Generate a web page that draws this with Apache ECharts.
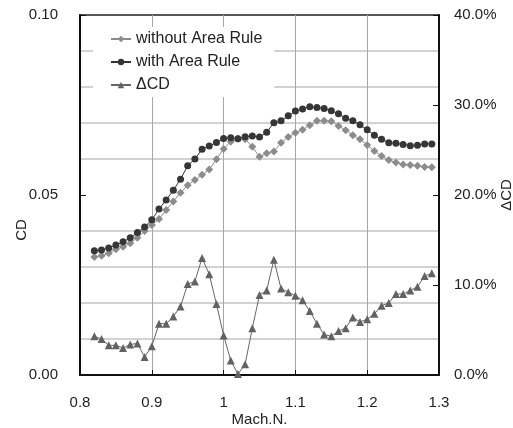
<!DOCTYPE html>
<html>
<head>
<meta charset="utf-8">
<script src="https://cdn.jsdelivr.net/npm/echarts@6/dist/echarts.min.js"></script>
<style>
  html, body { margin: 0; padding: 0; background: #fff; }
  #chart { width: 513px; height: 428px; }
</style>
</head>
<body>
<div id="chart"></div>
<script>
// Mach number 0.82 .. 1.29
const mach = [0.82, 0.83, 0.84, 0.85, 0.86, 0.87, 0.88, 0.89, 0.90, 0.91, 0.92, 0.93,
  0.94, 0.95, 0.96, 0.97, 0.98, 0.99, 1.00, 1.01, 1.02, 1.03, 1.04, 1.05,
  1.06, 1.07, 1.08, 1.09, 1.10, 1.11, 1.12, 1.13, 1.14, 1.15, 1.16, 1.17,
  1.18, 1.19, 1.20, 1.21, 1.22, 1.23, 1.24, 1.25, 1.26, 1.27, 1.28, 1.29]

const cdWithout = [0.0328, 0.0331, 0.0338, 0.0349, 0.0356, 0.0366, 0.0381, 0.0400, 0.0417, 0.0433, 0.0458, 0.0482,
  0.0506, 0.0527, 0.0542, 0.0556, 0.0571, 0.0599, 0.0628, 0.0648, 0.0657, 0.0655, 0.0634, 0.0606,
  0.0616, 0.0621, 0.0645, 0.0661, 0.0673, 0.0681, 0.0694, 0.0706, 0.0706, 0.0705, 0.0692, 0.0680,
  0.0666, 0.0655, 0.0639, 0.0622, 0.0608, 0.0597, 0.0590, 0.0585, 0.0583, 0.0581, 0.0578, 0.0577]

const cdWith = [0.0345, 0.0347, 0.0353, 0.0361, 0.0370, 0.0381, 0.0396, 0.0411, 0.0431, 0.0461, 0.0486, 0.0513,
  0.0544, 0.0581, 0.0600, 0.0627, 0.0636, 0.0646, 0.0657, 0.0659, 0.0656, 0.0662, 0.0664, 0.0661,
  0.0674, 0.0701, 0.0706, 0.0720, 0.0733, 0.0739, 0.0745, 0.0743, 0.0740, 0.0734, 0.0726, 0.0713,
  0.0706, 0.0695, 0.0681, 0.0666, 0.0655, 0.0645, 0.0644, 0.0640, 0.0637, 0.0638, 0.0642, 0.0642]

// ΔCD in percent
const deltaCd = [4.3, 4.0, 3.3, 3.3, 3.0, 3.4, 3.5, 2.0, 3.2, 5.7, 5.7, 6.5,
  7.6, 10.1, 10.4, 13.0, 11.2, 7.9, 4.4, 1.6, 0.1, 1.2, 5.2, 8.9,
  9.4, 12.8, 9.6, 9.2, 8.8, 8.3, 7.1, 5.7, 4.5, 4.3, 4.9, 5.2,
  6.4, 5.9, 6.2, 6.8, 7.7, 8.0, 9.0, 9.0, 9.4, 9.8, 11.0, 11.3]

const pair = (ys) => mach.map((m, i) => [m, ys[i]])

const font = 'Liberation Sans, Arial, sans-serif'
const chart = echarts.init(document.getElementById('chart'), null, { renderer: 'canvas' })

const option = {
  animation: false,
  backgroundColor: '#fff',
  textStyle: { fontFamily: font },
  grid: {
    left: 80, top: 15, width: 359, height: 360,
    outerBoundsMode: 'none',
    show: true, borderColor: '#222', borderWidth: 1.5
  },
  legend: {
    left: 93, top: 27,
    orient: 'vertical',
    backgroundColor: '#fff',
    padding: [4, 12, 4, 17],
    itemWidth: 20, itemHeight: 8, itemGap: 7,
    selectedMode: false,
    textStyle: { fontSize: 16, color: '#222', lineHeight: 16, fontFamily: font },
    data: ['without Area Rule', 'with Area Rule', 'ΔCD']
  },
  xAxis: {
    type: 'value', min: 0.8, max: 1.3, interval: 0.1,
    name: 'Mach.N.', nameLocation: 'middle', nameGap: 37, nameMoveOverlap: false,
    nameTextStyle: { fontSize: 15, color: '#222' },
    axisLine: { lineStyle: { color: '#111', width: 2 } },
    axisTick: { inside: true, length: 5, lineStyle: { color: '#111' } },
    axisLabel: { fontSize: 15, color: '#222', margin: 20 },
    splitLine: { show: true, lineStyle: { color: '#a6a6a6', width: 1 } }
  },
  yAxis: [{
    type: 'value', min: 0, max: 0.1, interval: 0.05,
    axisLine: { show: true, lineStyle: { color: '#111', width: 2 } },
    axisTick: { show: true, inside: true, length: 6, lineStyle: { color: '#111' } },
    axisLabel: { fontSize: 15, color: '#222', margin: 22, formatter: v => v.toFixed(2) },
    splitLine: { show: false },
    minorTick: { show: false, splitNumber: 5 },
    minorSplitLine: { show: true, lineStyle: { color: '#c4c4c4', width: 1.5 } }
  }, {
    type: 'value', min: 0, max: 40, interval: 10, position: 'right',
    name: 'ΔCD', nameLocation: 'middle', nameGap: 60, nameRotate: 90, nameMoveOverlap: false,
    nameTextStyle: { fontSize: 15, color: '#222' },
    axisLine: { show: true, lineStyle: { color: '#111', width: 2 } },
    axisTick: { show: true, inside: true, length: 6, lineStyle: { color: '#111' } },
    axisLabel: { fontSize: 15, color: '#222', margin: 15, formatter: v => v.toFixed(1) + '%' },
    splitLine: { show: false }
  }],
  graphic: [{
    type: 'text', x: 22, y: 230, rotation: Math.PI / 2,
    style: { text: 'CD', fontSize: 15, fill: '#222', font: '15px ' + font, align: 'center', verticalAlign: 'middle' }
  }],
  series: [{
    name: 'without Area Rule', type: 'line', data: pair(cdWithout),
    symbol: 'diamond', symbolSize: 8, showAllSymbol: true,
    lineStyle: { color: '#8c8c8c', width: 1 },
    itemStyle: { color: '#8c8c8c' }
  }, {
    name: 'with Area Rule', type: 'line', data: pair(cdWith),
    symbol: 'circle', symbolSize: 7, showAllSymbol: true,
    lineStyle: { color: '#333', width: 1 },
    itemStyle: { color: '#363636' }
  }, {
    name: 'ΔCD', type: 'line', yAxisIndex: 1, data: pair(deltaCd),
    symbol: 'triangle', symbolSize: 8, showAllSymbol: true,
    lineStyle: { color: '#666', width: 1 },
    itemStyle: { color: '#626262' }
  }]
}

chart.setOption(option)
</script>
</body>
</html>
